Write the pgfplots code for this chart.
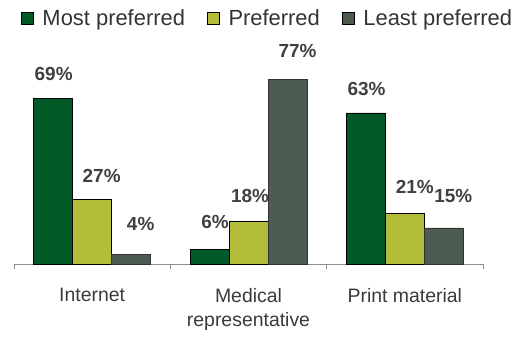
\documentclass[border=0pt]{standalone}
\usepackage{pgfplots}
\usepackage{pgfplotstable}
\pgfplotsset{compat=1.18}
\usepackage{fontspec}
\setmainfont{Liberation Sans}

\definecolor{mostpref}{HTML}{035A28}
\definecolor{pref}{HTML}{B4BD3A}
\definecolor{leastpref}{HTML}{4C5C51}
\definecolor{labelgray}{HTML}{404040}
\definecolor{axisgray}{HTML}{8C8C8C}

% x: category index, y: share in percent, dx/dy: label offset in bp
\pgfplotstableread{
x y dx dy
0 69 0.5 24
1 6 5.5 27.7
2 63 0.7 24
}\mostpreftab
\pgfplotstableread{
x y dx dy
0 27 9.5 23.6
1 18 1.5 25
2 21 10 27
}\preftab
\pgfplotstableread{
x y dx dy
0 4 9.5 30
1 77 10 28
2 15 9.5 31.6
}\leastpreftab

\pgfplotsset{
  sqlegend/.style={legend image code/.code={
    \draw[##1,draw=black,line width=0.5bp] (0bp,-6bp) rectangle (12bp,6bp);}},
}

\begin{document}
\begin{tikzpicture}
\useasboundingbox (0,0) rectangle (528bp,337bp);
\begin{axis}[
  at={(14bp,73bp)}, anchor=south west,
  scale only axis,
  width=469bp, height=240bp,
  ybar=0pt, bar width=39bp,
  xmin=-0.5, xmax=2.5,
  ymin=0, ymax=100,
  axis y line=none,
  axis x line*=bottom,
  x axis line style={draw=axisgray, line width=0.7bp},
  xtick={0,1,2},
  xticklabels={Internet,{Medical\\representative},Print material},
  major x tick style={draw=none},
  minor xtick={-0.5,0.5,1.5,2.5},
  minor tick length=5bp,
  tick align=outside,
  minor x tick style={draw=axisgray, line width=0.7bp},
  xticklabel style={align=center, anchor=north, inner sep=0pt, yshift=-20bp,
    font=\fontsize{19.5}{24}\selectfont, text=labelgray!90!black},
  clip=false,
  /pgf/number format/assume math mode=true,
  point meta=y,
  visualization depends on={\thisrow{dx} \as \dx},
  visualization depends on={\thisrow{dy} \as \dy},
  nodes near coords={\pgfmathprintnumber[assume math mode=true]{\pgfplotspointmeta}\%},
  nodes near coords style={anchor=center, inner sep=0pt,
    xshift=\dx bp, yshift=\dy bp,
    font=\fontsize{19}{22}\selectfont\bfseries, text=labelgray},
  legend columns=3,
  legend style={draw=none, fill=none, at={(axis description cs:0,1)},
    anchor=west, xshift=7bp, yshift=6bp, inner sep=0pt, outer sep=0pt,
    font=\fontsize{22}{24}\selectfont, text=labelgray!80!black,
    nodes={inner sep=0pt},
    /tikz/every odd column/.append style={column sep=9bp},
    /tikz/every even column/.append style={column sep=22bp}},
]
\addplot[fill=mostpref, draw=black, line width=0.5bp, sqlegend] table[x=x,y=y] {\mostpreftab};
\addplot[fill=pref, draw=black, line width=0.5bp, sqlegend] table[x=x,y=y] {\preftab};
\addplot[fill=leastpref, draw=black!80, line width=0.5bp, sqlegend] table[x=x,y=y] {\leastpreftab};
\legend{Most preferred, Preferred, Least preferred}
\end{axis}
\end{tikzpicture}
\end{document}
